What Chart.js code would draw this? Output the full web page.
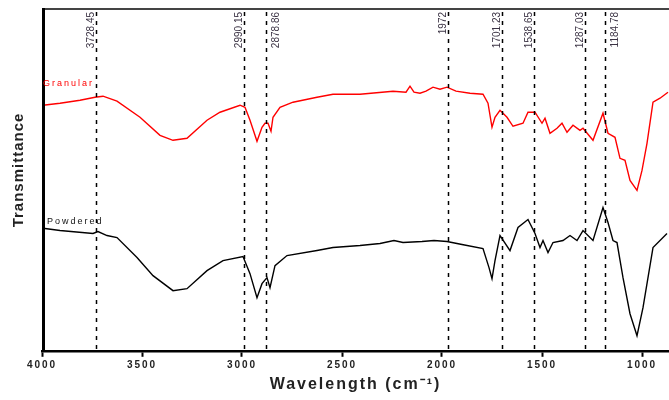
<!DOCTYPE html>
<html>
<head>
<meta charset="utf-8">
<script src="https://cdn.jsdelivr.net/npm/chart.js@4.4.1/dist/chart.umd.min.js"></script>
<style>
  html, body { margin: 0; padding: 0; background: #fff; }
  #wrap { width: 669px; height: 400px; position: relative; }
</style>
</head>
<body>
<div id="wrap"><canvas id="ftir"></canvas></div>
<script>
// wavenumbers (cm-1) and transmittance (arbitrary units)
const granularX = [3995, 3910, 3810, 3735, 3695, 3625, 3510, 3410, 3345, 3275, 3175, 3110, 3010, 2985, 2960, 2925, 2900, 2885, 2870, 2855, 2845, 2810, 2745, 2625, 2545, 2410, 2300, 2245, 2180, 2160, 2140, 2110, 2080, 2045, 2010, 1975, 1930, 1860, 1795, 1770, 1750, 1735, 1710, 1675, 1645, 1595, 1570, 1535, 1500, 1485, 1460, 1425, 1400, 1375, 1345, 1310, 1295, 1245, 1195, 1170, 1135, 1110, 1085, 1060, 1025, 1000, 975, 945, 910, 870];
const granularY = [245, 247, 250, 253, 254, 249, 233, 215, 210, 212, 230, 238, 245, 243, 230, 209, 223, 227, 227, 219, 233, 243, 248, 253, 256, 256, 258, 259, 258, 264, 258, 257, 259, 263, 261, 263, 259, 257, 256, 247, 223, 233, 240, 233, 224, 227, 238, 238, 227, 232, 217, 222, 227, 218, 225, 220, 222, 210, 237, 217, 213, 192, 190, 170, 160, 180, 207, 248, 252, 258];

const powderedX = [3985, 3910, 3745, 3720, 3675, 3625, 3525, 3445, 3345, 3275, 3175, 3095, 2995, 2960, 2925, 2900, 2875, 2860, 2835, 2775, 2625, 2545, 2410, 2310, 2240, 2195, 2100, 2040, 1975, 1900, 1795, 1765, 1750, 1735, 1710, 1660, 1620, 1570, 1535, 1510, 1495, 1470, 1445, 1395, 1360, 1325, 1295, 1245, 1195, 1170, 1145, 1125, 1095, 1060, 1025, 995, 945, 875];
const powderedY = [122, 120, 117, 119, 115, 113, 93, 75, 60, 62, 80, 90, 94, 77, 53, 67, 73, 63, 85, 95, 100, 103, 105, 107, 110, 108, 109, 110, 109, 106, 102, 83, 72, 90, 115, 100, 123, 131, 117, 103, 110, 98, 108, 110, 115, 110, 120, 110, 143, 128, 110, 108, 73, 37, 15, 43, 103, 117];

// marked bands
const peaks = [3728.45, 2990.15, 2878.86, 1972, 1701.23, 1538.65, 1287.03, 1184.78];
const peakLabels = ["3728.45", "2990.15", "2878.86", "1972", "1701.23", "1538.65", "1287.03", "1184.78"];
const peakSide = ["left", "left", "right", "left", "left", "left", "left", "right"];

const xTicks = [4000, 3500, 3000, 2500, 2000, 1500, 1000];

const toPoints = (xs, ys) => xs.map((x, i) => ({ x, y: ys[i] }));

const spacing = {
    id: "spacing",
    beforeDraw(c) { c.ctx.letterSpacing = "2px"; },
    beforeDatasetsDraw(c) { c.ctx.letterSpacing = "0px"; }
};

const decor = {
    id: "decor",
    afterDatasetsDraw(c) {
        const { ctx, chartArea: a, scales: { x } } = c;
        ctx.save();

        // band markers
        ctx.strokeStyle = "#000";
        ctx.lineWidth = 1.5;
        ctx.setLineDash([4, 5]);
        peaks.forEach(p => {
            const px = Math.round(x.getPixelForValue(p)) + 0.5;
            ctx.beginPath();
            ctx.moveTo(px, a.top + 2);
            ctx.lineTo(px, a.bottom);
            ctx.stroke();
        });
        ctx.setLineDash([]);

        ctx.font = "10px 'Liberation Sans', Arial, sans-serif";
        ctx.fillStyle = "#3b3344";
        ctx.textAlign = "right";
        ctx.textBaseline = "alphabetic";
        peaks.forEach((p, i) => {
            const px = x.getPixelForValue(p);
            const bx = peakSide[i] === "left" ? px - 2 : px + 13;
            ctx.save();
            ctx.translate(bx, a.top + 2);
            ctx.rotate(-Math.PI / 2);
            ctx.fillText(peakLabels[i], 0, 0);
            ctx.restore();
        });

        // frame: thin top, heavy left
        ctx.strokeStyle = "#444";
        ctx.lineWidth = 2;
        ctx.beginPath();
        ctx.moveTo(a.left, a.top - 1);
        ctx.lineTo(a.right, a.top - 1);
        ctx.stroke();
        ctx.strokeStyle = "#000";
        ctx.lineWidth = 3;
        ctx.beginPath();
        ctx.moveTo(a.left + 1.5, a.top - 2);
        ctx.lineTo(a.left + 1.5, a.bottom + 1);
        ctx.stroke();

        // series names
        ctx.letterSpacing = "2px";
        ctx.font = "9px 'Liberation Sans', Arial, sans-serif";
        ctx.textAlign = "left";
        ctx.textBaseline = "middle";
        ctx.fillStyle = "#ff0000";
        ctx.fillText("Granular", a.left + 1, 84);
        ctx.fillStyle = "#111";
        ctx.fillText("Powdered", a.left + 5, 222);

        // y title
        ctx.letterSpacing = "1px";
        ctx.font = "bold 15px 'Liberation Sans', Arial, sans-serif";
        ctx.fillStyle = "#222";
        ctx.textAlign = "center";
        ctx.save();
        ctx.translate(19, 170);
        ctx.rotate(-Math.PI / 2);
        ctx.fillText("Transmittance", 0, 0);
        ctx.restore();

        ctx.restore();
    }
};

new Chart(document.getElementById("ftir"), {
    type: "line",
    data: {
        datasets: [
            { label: "Granular", data: toPoints(granularX, granularY), borderColor: "#ff0000", borderWidth: 1.4 },
            { label: "Powdered", data: toPoints(powderedX, powderedY), borderColor: "#000000", borderWidth: 1.4 }
        ]
    },
    options: {
        responsive: true,
        maintainAspectRatio: false,
        animation: false,
        layout: { padding: { left: 42, right: 0, top: 10, bottom: 2 } },
        elements: { point: { radius: 0 }, line: { tension: 0 } },
        plugins: { legend: { display: false }, tooltip: { enabled: false } },
        scales: {
            x: {
                type: "linear",
                reverse: true,
                min: 865,
                max: 4000,
                afterBuildTicks: s => { s.ticks = xTicks.map(v => ({ value: v })); },
                ticks: {
                    color: "#222",
                    padding: 2,
                    maxRotation: 0,
                    callback: v => String(v),
                    font: { family: "'Liberation Sans', Arial, sans-serif", size: 10, weight: "bold" }
                },
                grid: { drawOnChartArea: false, drawTicks: true, tickLength: 6, color: "#000", tickWidth: 2 },
                border: { color: "#000", width: 2.5 },
                title: {
                    display: true,
                    text: "Wavelength (cm\u207B\u00B9)",
                    color: "#222",
                    padding: { top: 2, bottom: 4 },
                    font: { family: "'Liberation Sans', Arial, sans-serif", size: 16, weight: "bold" }
                }
            },
            y: { display: false, min: 0, max: 340 }
        }
    },
    plugins: [spacing, decor]
});
</script>
</body>
</html>
